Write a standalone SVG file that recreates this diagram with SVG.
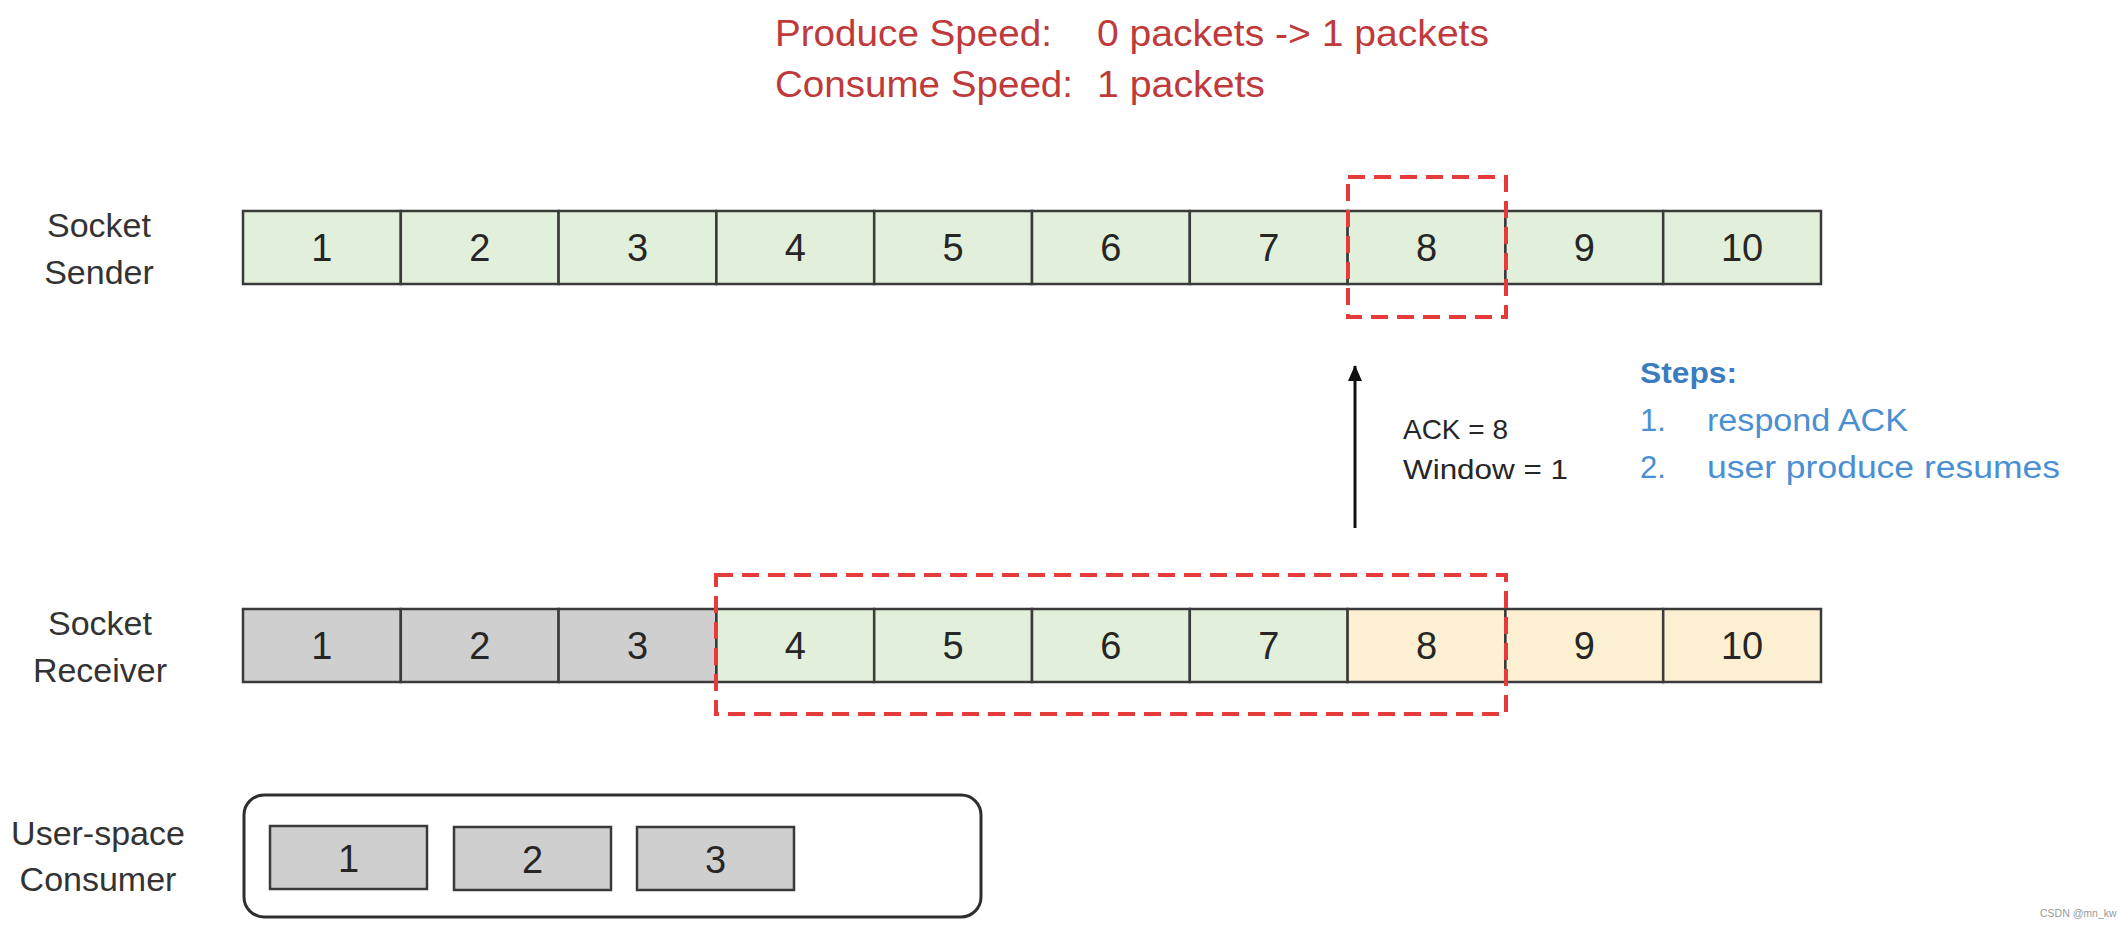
<svg xmlns="http://www.w3.org/2000/svg" width="2128" height="930" viewBox="0 0 2128 930">
  <style>
    .lbl { font-family: "Liberation Sans", Arial, sans-serif; font-size: 34px; fill: #333333; text-anchor: middle; }
    .num { font-family: "Liberation Sans", Arial, sans-serif; font-size: 38px; fill: #262626; text-anchor: middle; }
    .cell { stroke: #3a3a3a; stroke-width: 2.5; }
    .g { fill: #e2efda; }
    .y { fill: #fdf0d2; }
    .gr { fill: #d0cfd0; }
    .dash { fill: none; stroke: #e53b3b; stroke-width: 4; stroke-dasharray: 17 9; }
    .red { font-family: "Liberation Sans", Arial, sans-serif; font-size: 37px; fill: #c0393b; }
    .ack { font-family: "Liberation Sans", Arial, sans-serif; font-size: 28px; fill: #262626; }
    .blue { font-family: "Liberation Sans", Arial, sans-serif; font-size: 31px; fill: #4a8fd3; }
    .bluebold { font-family: "Liberation Sans", Arial, sans-serif; font-size: 30px; font-weight: bold; fill: #3a7cc0; }
    .wm { font-family: "Liberation Sans", Arial, sans-serif; font-size: 10.5px; fill: #999999; }
  </style>
  <defs>
    <marker id="arrow" markerWidth="16" markerHeight="14" refX="15" refY="7" orient="auto" markerUnits="userSpaceOnUse" viewBox="0 0 16 14">
      <polygon points="0,0 16,7 0,14" fill="#111111"/>
    </marker>
  </defs>
  <rect width="2128" height="930" fill="#ffffff"/>

  <g id="title">
    <text class="red" x="775" y="46" textLength="277" lengthAdjust="spacingAndGlyphs">Produce Speed:</text>
    <text class="red" x="1097" y="46" textLength="392" lengthAdjust="spacingAndGlyphs">0 packets -&gt; 1 packets</text>
    <text class="red" x="775" y="97" textLength="298" lengthAdjust="spacingAndGlyphs">Consume Speed:</text>
    <text class="red" x="1097" y="97" textLength="168" lengthAdjust="spacingAndGlyphs">1 packets</text>
  </g>

  <g id="sender-label">
    <text class="lbl" x="99" y="237">Socket</text>
    <text class="lbl" x="99" y="284">Sender</text>
  </g>
  <g id="sender">
    <rect class="cell g" x="243" y="211" width="157.8" height="73"/>
    <rect class="cell g" x="400.8" y="211" width="157.8" height="73"/>
    <rect class="cell g" x="558.6" y="211" width="157.8" height="73"/>
    <rect class="cell g" x="716.4" y="211" width="157.8" height="73"/>
    <rect class="cell g" x="874.2" y="211" width="157.8" height="73"/>
    <rect class="cell g" x="1032" y="211" width="157.8" height="73"/>
    <rect class="cell g" x="1189.8" y="211" width="157.8" height="73"/>
    <rect class="cell g" x="1347.6" y="211" width="157.8" height="73"/>
    <rect class="cell g" x="1505.4" y="211" width="157.8" height="73"/>
    <rect class="cell g" x="1663.2" y="211" width="157.8" height="73"/>
    <text class="num" x="321.9" y="261">1</text>
    <text class="num" x="479.7" y="261">2</text>
    <text class="num" x="637.5" y="261">3</text>
    <text class="num" x="795.3" y="261">4</text>
    <text class="num" x="953.1" y="261">5</text>
    <text class="num" x="1110.9" y="261">6</text>
    <text class="num" x="1268.7" y="261">7</text>
    <text class="num" x="1426.5" y="261">8</text>
    <text class="num" x="1584.3" y="261">9</text>
    <text class="num" x="1742.1" y="261">10</text>
  </g>
  <g id="sender-window">
    <rect class="dash" x="1348" y="177" width="158" height="140"/>
  </g>

  <g id="receiver-label">
    <text class="lbl" x="100" y="635">Socket</text>
    <text class="lbl" x="100" y="682">Receiver</text>
  </g>
  <g id="receiver">
    <rect class="cell gr" x="243" y="609" width="157.8" height="73"/>
    <rect class="cell gr" x="400.8" y="609" width="157.8" height="73"/>
    <rect class="cell gr" x="558.6" y="609" width="157.8" height="73"/>
    <rect class="cell g" x="716.4" y="609" width="157.8" height="73"/>
    <rect class="cell g" x="874.2" y="609" width="157.8" height="73"/>
    <rect class="cell g" x="1032" y="609" width="157.8" height="73"/>
    <rect class="cell g" x="1189.8" y="609" width="157.8" height="73"/>
    <rect class="cell y" x="1347.6" y="609" width="157.8" height="73"/>
    <rect class="cell y" x="1505.4" y="609" width="157.8" height="73"/>
    <rect class="cell y" x="1663.2" y="609" width="157.8" height="73"/>
    <text class="num" x="321.9" y="659">1</text>
    <text class="num" x="479.7" y="659">2</text>
    <text class="num" x="637.5" y="659">3</text>
    <text class="num" x="795.3" y="659">4</text>
    <text class="num" x="953.1" y="659">5</text>
    <text class="num" x="1110.9" y="659">6</text>
    <text class="num" x="1268.7" y="659">7</text>
    <text class="num" x="1426.5" y="659">8</text>
    <text class="num" x="1584.3" y="659">9</text>
    <text class="num" x="1742.1" y="659">10</text>
  </g>
  <g id="receiver-window">
    <rect class="dash" x="716" y="575" width="790" height="139"/>
  </g>

  <g id="consumer-label">
    <text class="lbl" x="98" y="845">User-space</text>
    <text class="lbl" x="98" y="891">Consumer</text>
  </g>
  <g id="consumer">
    <rect x="244" y="795" width="737" height="122" rx="20" ry="20" fill="none" stroke="#2e2e2e" stroke-width="3"/>
    <rect class="cell gr" x="270" y="826" width="157" height="63" stroke-width="3"/>
    <rect class="cell gr" x="454" y="827" width="157" height="63" stroke-width="3"/>
    <rect class="cell gr" x="637" y="827" width="157" height="63" stroke-width="3"/>
    <text class="num" x="348.5" y="872">1</text>
    <text class="num" x="532.5" y="873">2</text>
    <text class="num" x="715.5" y="873">3</text>
  </g>

  <g id="connectors">
    <line x1="1355" y1="528" x2="1355" y2="366" stroke="#111111" stroke-width="3" marker-end="url(#arrow)"/>
  </g>

  <g id="ack-label">
    <text class="ack" x="1403" y="439" textLength="105" lengthAdjust="spacingAndGlyphs">ACK = 8</text>
    <text class="ack" x="1403" y="479" textLength="165" lengthAdjust="spacingAndGlyphs">Window = 1</text>
  </g>

  <g id="steps">
    <text class="bluebold" x="1640" y="383" textLength="97" lengthAdjust="spacingAndGlyphs">Steps:</text>
    <text class="blue" x="1640" y="431">1.</text>
    <text class="blue" x="1707" y="431" textLength="201" lengthAdjust="spacingAndGlyphs">respond ACK</text>
    <text class="blue" x="1640" y="478">2.</text>
    <text class="blue" x="1707" y="478" textLength="353" lengthAdjust="spacingAndGlyphs">user produce resumes</text>
  </g>

  <g id="watermark">
    <text class="wm" x="2040" y="917">CSDN @mn_kw</text>
  </g>
</svg>
